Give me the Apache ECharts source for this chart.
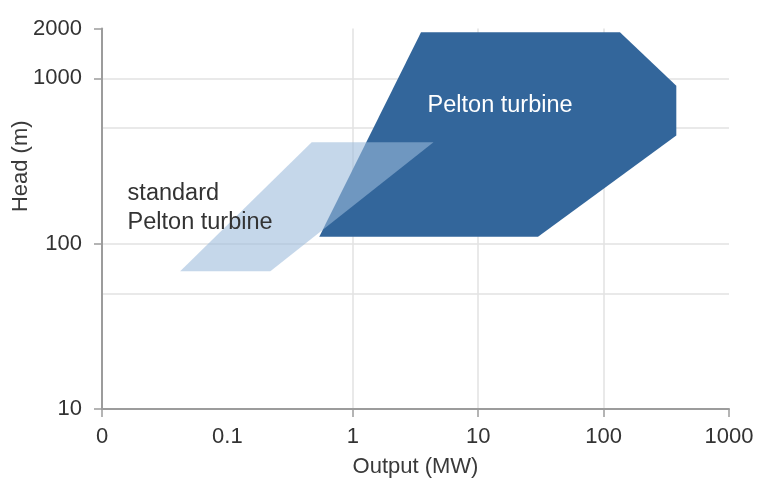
<!DOCTYPE html>
<html>
<head>
<meta charset="utf-8">
<script src="https://cdn.jsdelivr.net/npm/echarts@6/dist/echarts.min.js"></script>
<style>
  html, body { margin: 0; padding: 0; background: #fff; }
  #chart { width: 760px; height: 485px; }
</style>
</head>
<body>
<div id="chart"></div>
<script>
// Application range of Pelton turbines: output (MW) against head (m), log-log

// Axis ticks and their labels
const outputTicks = [0.01, 0.1, 1, 10, 100, 1000];
const outputTickLabels = ['0', '0.1', '1', '10', '100', '1000'];
const outputTickMarks = [0.01, 1, 10, 100, 1000];
const headTicks = [10, 100, 1000, 2000];
const headTickLabels = ['10', '100', '1000', '2000'];

// Grid lines
const outputGrid = [1, 10, 100];
const headGrid = [50, 100, 500, 1000];

// Pelton turbine range (polygon outline)
const peltonOutput = [3.5, 135, 380, 380, 30, 0.54];
const peltonHead = [1900, 1900, 900, 450, 110, 110];

// Standard Pelton turbine range (polygon outline)
const standardOutput = [0.042, 0.22, 4.4, 0.47];
const standardHead = [68, 68, 410, 410];

// Area labels
const areaNames = ['standard\nPelton turbine', 'Pelton turbine'];
const areaLabelOutput = [0.016, 3.95];
const areaLabelHead = [164, 680];
const areaLabelColors = ['#333333', '#ffffff'];

const FONT = '"Liberation Sans", Arial, Helvetica, sans-serif';
const AXIS_GREY = '#9c9c9c';
const GRID_GREY = '#e2e2e2';

function pickLabel(ticks, labels, v) {
  let best = 0, bestD = Infinity;
  ticks.forEach((t, i) => {
    const d = Math.abs(Math.log10(t) - Math.log10(v));
    if (d < bestD) { bestD = d; best = i; }
  });
  return labels[best];
}

function polygonSeries(name, xs, ys, fill, z) {
  const pts = xs.map((x, i) => [x, ys[i]]);
  return {
    name: name,
    type: 'custom',
    coordinateSystem: 'cartesian2d',
    z: z,
    silent: true,
    clip: false,
    encode: { x: 0, y: 1 },
    data: pts,
    renderItem: function (params, api) {
      if (params.dataIndex !== 0) return;
      const points = pts.map(p => api.coord(p));
      return { type: 'polygon', shape: { points: points }, style: { fill: fill } };
    }
  };
}

const gridLines = outputGrid.map(v => ({ xAxis: v }))
  .concat(headGrid.map(v => ({ yAxis: v })));

const chart = echarts.init(document.getElementById('chart'), null, { renderer: 'canvas' });

chart.setOption({
  animation: false,
  backgroundColor: '#ffffff',
  textStyle: { fontFamily: FONT },
  grid: { left: 102, right: 31, top: 28.5, bottom: 76, containLabel: false, outerBoundsMode: 'none' },
  xAxis: {
    type: 'log',
    logBase: 10,
    min: 0.01,
    max: 1000,
    name: 'Output (MW)',
    nameLocation: 'middle',
    nameGap: 47,
    nameMoveOverlap: false,
    nameTextStyle: { fontSize: 22, color: '#3a3a3a', fontFamily: FONT },
    axisLine: { lineStyle: { color: AXIS_GREY, width: 2 } },
    axisTick: { show: true, length: 8, customValues: outputTickMarks,
                lineStyle: { color: AXIS_GREY, width: 1.5 } },
    axisLabel: { customValues: outputTicks, margin: 17, fontSize: 22, color: '#333333',
                 fontFamily: FONT,
                 formatter: v => pickLabel(outputTicks, outputTickLabels, v) },
    splitLine: { show: false },
    minorTick: { show: false }
  },
  yAxis: {
    type: 'log',
    logBase: 10,
    min: 10,
    max: 2000,
    name: 'Head (m)',
    nameLocation: 'middle',
    nameGap: 70,
    nameMoveOverlap: false,
    nameTextStyle: { fontSize: 22, color: '#3a3a3a', fontFamily: FONT, padding: [0, 0, 0, 105] },
    axisLine: { lineStyle: { color: AXIS_GREY, width: 2 } },
    axisTick: { show: true, length: 8, customValues: headTicks,
                lineStyle: { color: AXIS_GREY, width: 1.5 } },
    axisLabel: { customValues: headTicks, margin: 20, fontSize: 22, color: '#333333',
                 fontFamily: FONT,
                 formatter: v => pickLabel(headTicks, headTickLabels, v) },
    splitLine: { show: false },
    minorTick: { show: false }
  },
  series: [
    {
      name: 'grid',
      type: 'line',
      data: [],
      z: 0,
      silent: true,
      markLine: {
        z: 0,
        silent: true,
        animation: false,
        symbol: ['none', 'none'],
        label: { show: false },
        lineStyle: { color: GRID_GREY, width: 1.5, type: 'solid' },
        data: gridLines
      }
    },
    polygonSeries('Pelton turbine', peltonOutput, peltonHead, '#33669b', 2),
    polygonSeries('standard Pelton turbine', standardOutput, standardHead,
                  'rgba(155,186,218,0.58)', 3),
    {
      name: 'labels',
      type: 'scatter',
      z: 5,
      silent: true,
      symbolSize: 0,
      itemStyle: { opacity: 1 },
      data: areaNames.map((n, i) => ({
        name: n,
        value: [areaLabelOutput[i], areaLabelHead[i]],
        label: { color: areaLabelColors[i] }
      })),
      label: {
        show: true,
        position: 'right',
        distance: 0,
        formatter: p => p.name,
        fontSize: 23.5,
        lineHeight: 29,
        align: 'left',
        fontFamily: FONT
      }
    }
  ]
});
</script>
</body>
</html>
